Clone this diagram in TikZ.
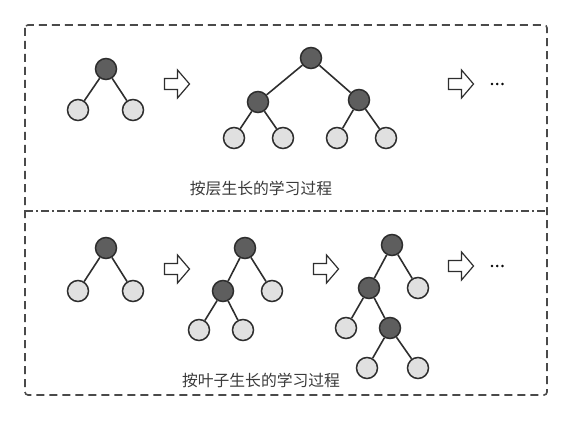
\documentclass[tikz,border=0pt]{standalone}
\usepackage{fontspec}
\newfontfamily\cjk{Noto Sans CJK SC}
\newfontfamily\cjkb[FakeBold=4]{Noto Sans CJK SC}
\definecolor{darkn}{HTML}{5E5E5E}
\definecolor{lightn}{HTML}{E0E0E0}
\definecolor{edgec}{HTML}{2E2E2E}
\definecolor{boxc}{HTML}{4A4A4A}
\definecolor{txtc}{HTML}{3A3A3A}
\tikzset{
  dk/.style={circle,draw=edgec,line width=1.5pt,fill=darkn,minimum size=21pt,inner sep=0pt},
  lt/.style={circle,draw=edgec,line width=1.5pt,fill=lightn,minimum size=21pt,inner sep=0pt},
  edge/.style={draw=edgec,line width=1.6pt},
  lbl/.style={font=\cjk\fontsize{15.8}{16}\selectfont,text=txtc,inner sep=0pt},
  dots/.style={font=\cjkb\fontsize{14}{16}\selectfont,text=black,inner sep=0pt},
  hollowarrow/.pic={
    \draw[edgec,line width=1.2pt,line join=miter,fill=white]
      (-12.5,-5.5) -- (0.5,-5.5) -- (0.5,-14) -- (12.5,0) -- (0.5,14) -- (0.5,5.5) -- (-12.5,5.5) -- cycle;
  }
}
\begin{document}
\begin{tikzpicture}[x=1pt,y=-1pt]
\useasboundingbox (0,0) rectangle (572,422);
% outer box
\draw[boxc,line width=1.6pt,dash pattern=on 8pt off 5pt,rounded corners=3pt] (25,25) rectangle (547,395);
\draw[boxc,line width=1.6pt,dash pattern=on 8pt off 3pt on 2pt off 3pt] (25,211) -- (547,211);

% ---- top row ----
\node[dk] (a1) at (106,69) {};
\node[lt] (a2) at (78,110) {};
\node[lt] (a3) at (133,110) {};
\draw[edge] (a1) -- (a2) (a1) -- (a3);

\pic at (177,84) {hollowarrow};

\node[dk] (b1) at (311,58) {};
\node[dk] (b2) at (258,102) {};
\node[dk] (b3) at (359,100) {};
\node[lt] (b4) at (234,138) {};
\node[lt] (b5) at (283,138) {};
\node[lt] (b6) at (337,138) {};
\node[lt] (b7) at (386,138) {};
\draw[edge] (b1) -- (b2) (b1) -- (b3) (b2) -- (b4) (b2) -- (b5) (b3) -- (b6) (b3) -- (b7);

\pic at (461,84) {hollowarrow};
\node[dots] (d1) at (497,84) {…};

\node[lbl] (t1) at (261,188) {按层生长的学习过程};

% ---- bottom row ----
\node[dk] (c1) at (106,248) {};
\node[lt] (c2) at (78,291) {};
\node[lt] (c3) at (133,291) {};
\draw[edge] (c1) -- (c2) (c1) -- (c3);

\pic at (177,269) {hollowarrow};

\node[dk] (e1) at (245,248) {};
\node[dk] (e2) at (223,291) {};
\node[lt] (e3) at (272,291) {};
\node[lt] (e4) at (199,330) {};
\node[lt] (e5) at (243,330) {};
\draw[edge] (e1) -- (e2) (e1) -- (e3) (e2) -- (e4) (e2) -- (e5);

\pic at (326,269) {hollowarrow};

\node[dk] (f1) at (392,245) {};
\node[dk] (f2) at (369,288) {};
\node[lt] (f3) at (418,288) {};
\node[lt] (f4) at (346,328) {};
\node[dk] (f5) at (390,328) {};
\node[lt] (f6) at (367,368) {};
\node[lt] (f7) at (418,368) {};
\draw[edge] (f1) -- (f2) (f1) -- (f3) (f2) -- (f4) (f2) -- (f5) (f5) -- (f6) (f5) -- (f7);

\pic at (461,266) {hollowarrow};
\node[dots] (d2) at (497,266) {…};

\node[lbl] (t2) at (261,380) {按叶子生长的学习过程};
\end{tikzpicture}
\end{document}
